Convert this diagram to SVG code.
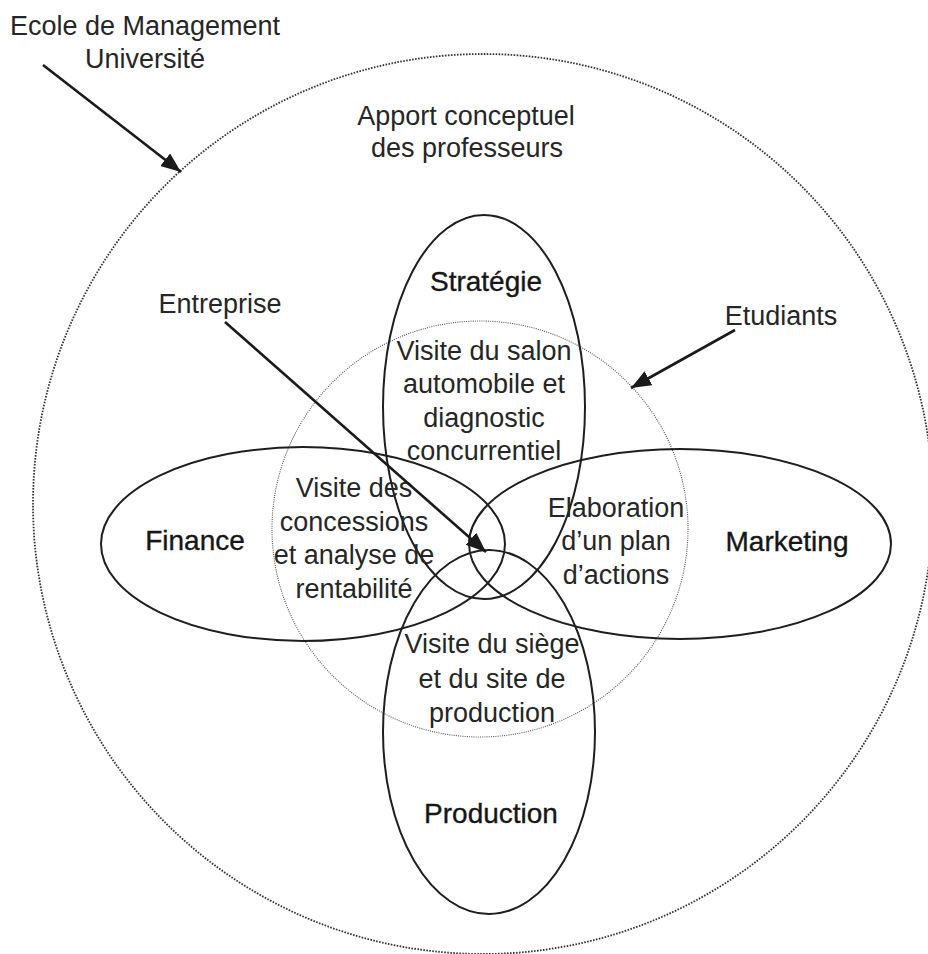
<svg xmlns="http://www.w3.org/2000/svg" width="928" height="954" viewBox="0 0 928 954">
  <style>
    .t { font-family: "Liberation Sans", Arial, sans-serif; font-size: 27px; fill: #262626; text-anchor: middle; }
    .lbl { font-family: "Liberation Sans", Arial, sans-serif; font-size: 28px; fill: #161616; stroke: #161616; stroke-width: 0.35; text-anchor: middle; }
    .ell { fill: none; stroke: #1e1e1e; stroke-width: 2; }
    .outer { fill: none; stroke: #333; stroke-width: 1.8; stroke-dasharray: 1.6 1.4; }
    .inner { fill: none; stroke: #555; stroke-width: 1.1; stroke-dasharray: 1 1.2; }
    .arr { fill: none; stroke: #1a1a1a; stroke-width: 2.6; marker-end: url(#ah); }
  </style>
  <defs>
    <marker id="ah" markerUnits="userSpaceOnUse" markerWidth="22" markerHeight="18" refX="20" refY="8" orient="auto">
      <path d="M0,0 L20,8 L0,16 z" fill="#1a1a1a"/>
    </marker>
  </defs>
  <rect width="928" height="954" fill="#ffffff"/>

  <g id="ecole-management">
    <circle class="outer" cx="483" cy="504" r="450"/>
    <text class="t" x="145" y="35">Ecole de Management</text>
    <text class="t" x="145" y="68">Université</text>
    <text class="t" x="466" y="125">Apport conceptuel</text>
    <text class="t" x="467" y="157">des professeurs</text>
  </g>

  <g id="etudiants">
    <circle class="inner" cx="480" cy="529" r="208"/>
    <text class="t" x="781" y="325">Etudiants</text>
  </g>

  <g id="strategie">
    <ellipse class="ell" cx="484" cy="407" rx="101" ry="192"/>
    <text class="lbl" x="486" y="291">Stratégie</text>
  </g>

  <g id="production">
    <ellipse class="ell" cx="489" cy="732" rx="106" ry="182"/>
    <text class="lbl" x="491" y="823">Production</text>
  </g>

  <g id="finance">
    <ellipse class="ell" cx="303" cy="544" rx="202" ry="97"/>
    <text class="lbl" x="195" y="550">Finance</text>
  </g>

  <g id="marketing">
    <ellipse class="ell" cx="680" cy="544" rx="211" ry="95"/>
    <text class="lbl" x="787" y="551">Marketing</text>
  </g>

  <g id="entreprise">
    <text class="t" x="220" y="313">Entreprise</text>
  </g>

  <g id="visite-salon">
    <text class="t" x="484" y="360">Visite du salon</text>
    <text class="t" x="484" y="393">automobile et</text>
    <text class="t" x="484" y="427">diagnostic</text>
    <text class="t" x="484" y="460">concurrentiel</text>
  </g>

  <g id="visite-concessions">
    <text class="t" x="354" y="497">Visite des</text>
    <text class="t" x="354" y="531">concessions</text>
    <text class="t" x="354" y="564">et analyse de</text>
    <text class="t" x="354" y="598">rentabilité</text>
  </g>

  <g id="elaboration">
    <text class="t" x="616" y="517">Elaboration</text>
    <text class="t" x="616" y="550">d’un plan</text>
    <text class="t" x="616" y="584">d’actions</text>
  </g>

  <g id="visite-siege">
    <text class="t" x="492" y="653">Visite du siège</text>
    <text class="t" x="492" y="688">et du site de</text>
    <text class="t" x="492" y="722">production</text>
  </g>

  <g id="connectors">
    <line class="arr" x1="43" y1="65" x2="181" y2="172"/>
    <line class="arr" x1="225" y1="322" x2="486" y2="552"/>
    <line class="arr" x1="735" y1="330" x2="631" y2="388"/>
  </g>
</svg>
